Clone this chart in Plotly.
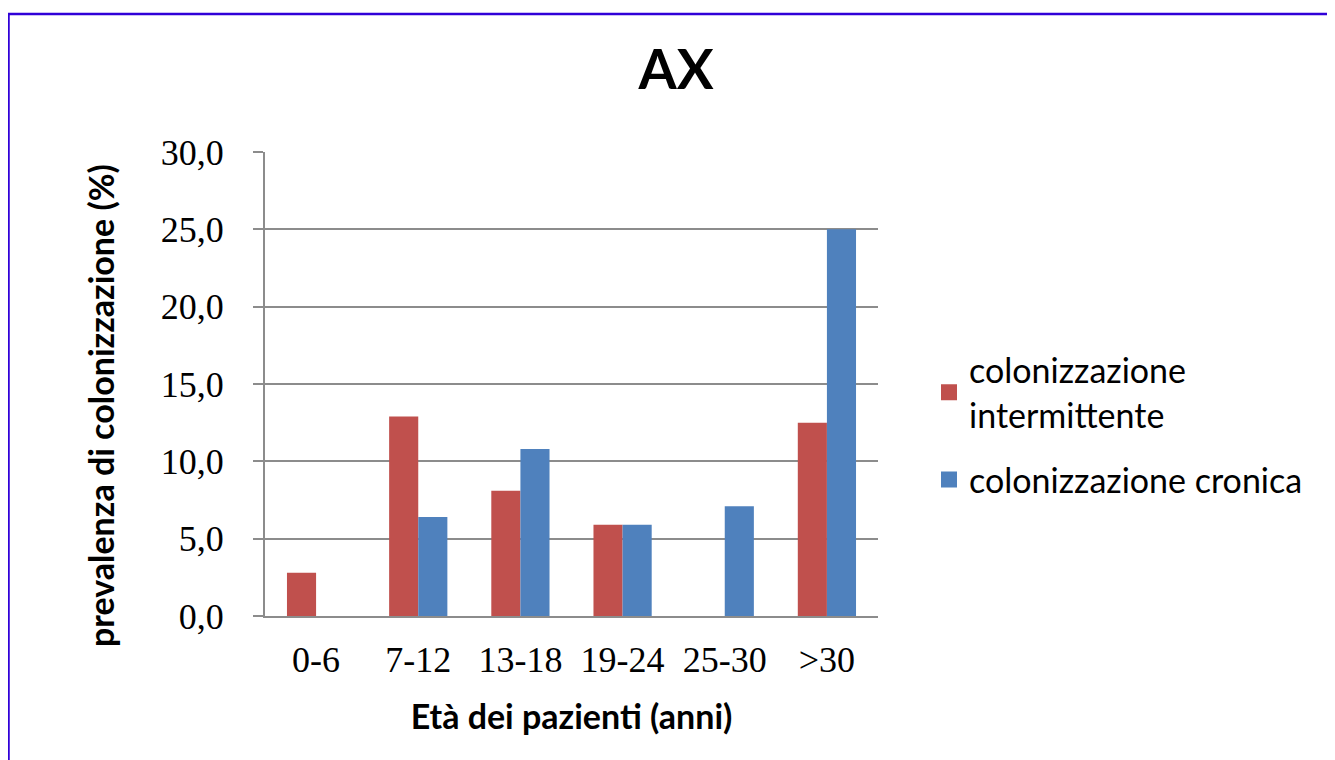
import plotly.graph_objects as go

categories = ["0-6", "7-12", "13-18", "19-24", "25-30", ">30"]
intermittente = [2.8, 12.9, 8.1, 5.9, None, 12.5]
cronica = [None, 6.4, 10.8, 5.9, 7.1, 25.0]
series_names = ["colonizzazione<br>intermittente", "colonizzazione cronica"]
y_ticks = [0, 5, 10, 15, 20, 25, 30]
y_title = "prevalenza di colonizzazione (%)"
x_title = "Età dei pazienti (anni)"

RED = "#C0504D"
BLUE = "#4F81BD"
GRID = "#8C8C8C"

# page body has an 8px margin; positions below are screen pixels minus that offset
OFF = 8
W, H = 1335 - OFF, 760 - OFF
L, R, T, B = 265 - OFF, 878 - OFF, 152 - OFF, 616 - OFF

fig = go.Figure()
for vals, col in [(intermittente, RED), (cronica, BLUE)]:
    fig.add_trace(go.Bar(x=categories, y=vals, marker=dict(color=col, line=dict(width=0)),
                         showlegend=False))
for i, (name, col) in enumerate(zip(series_names, [RED, BLUE])):
    fig.add_trace(go.Scatter(x=[None], y=[None], mode="markers", name=name,
                             legendgroup=f"g{i}",
                             marker=dict(symbol="square", size=22, color=col)))

def px_x(p):
    return (p - OFF - L) / (R - L)

def px_y(p):
    return (B - (p - OFF)) / (B - T)

fig.update_layout(
    width=W, height=H,
    margin=dict(l=L, r=W - R, t=T, b=H - B, pad=0),
    paper_bgcolor="white", plot_bgcolor="white",
    separators=",.",
    barmode="group", bargap=0.43, bargroupgap=0,
    title=dict(text="<b>AX</b>", x=(676 - OFF) / W, xref="container", xanchor="center",
               y=1 - (70 - OFF) / H, yref="container", yanchor="middle",
               font=dict(family="Lato", size=55, color="black")),
    legend=dict(x=px_x(929), xanchor="left", y=px_y(425), yanchor="middle",
                font=dict(family="Lato", size=34, color="black"),
                itemsizing="trace", tracegroupgap=18, bgcolor="rgba(0,0,0,0)"),
    font=dict(family="Liberation Serif", color="black"),
)
fig.update_xaxes(
    showline=True, linecolor=GRID, linewidth=2, ticks="", showgrid=False,
    tickfont=dict(family="Liberation Serif", size=36, color="black"),
    ticklabelstandoff=11,
    title=dict(text=f"<b>{x_title}</b>", standoff=26,
               font=dict(family="Lato", size=34, color="black")),
)
fig.update_yaxes(
    range=[0, 30], tickvals=y_ticks, tickformat=".1f",
    showline=True, linecolor=GRID, linewidth=2,
    ticks="outside", ticklen=10, tickwidth=2, tickcolor=GRID,
    showgrid=True, gridcolor=GRID, gridwidth=2, zeroline=False,
    tickfont=dict(family="Liberation Serif", size=36, color="black"),
    ticklabelstandoff=22,
)
fig.add_annotation(text=f"<b>{y_title}</b>", textangle=-90, showarrow=False,
                   xref="paper", yref="paper", x=px_x(100), y=px_y(406),
                   xanchor="center", yanchor="middle",
                   font=dict(family="Lato", size=34, color="black"))
fig.add_shape(type="rect", xref="paper", yref="paper",
              x0=px_x(8.5), x1=px_x(1335 + 50), y0=px_y(760 + 50), y1=px_y(14),
              line=dict(color="#3000D8", width=2.5), fillcolor="rgba(0,0,0,0)", layer="below")

fig.write_html("out.html")
